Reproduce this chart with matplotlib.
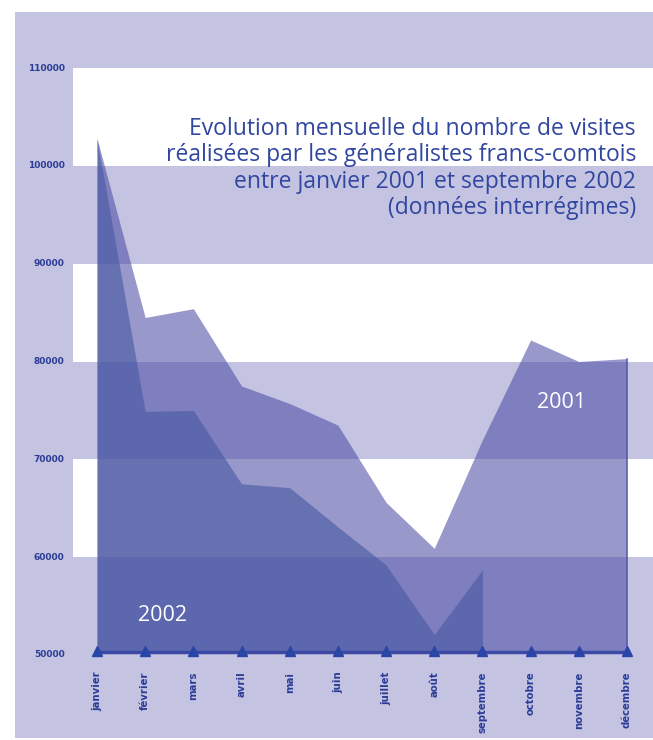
import matplotlib.pyplot as plt

months = ["janvier", "février", "mars", "avril", "mai", "juin", "juillet",
          "août", "septembre", "octobre", "novembre", "décembre"]
visits_2001 = [102800, 84500, 85400, 77500, 75700, 73500, 65600,
               60900, 72000, 82200, 80000, 80300]
visits_2002 = [102800, 74900, 75000, 67500, 67100, 63100, 59200,
               52100, 58700]
yticks = [50000, 60000, 70000, 80000, 90000, 100000, 110000]
title_lines = ["Evolution mensuelle du nombre de visites",
               "réalisées par les généralistes francs-comtois",
               "entre janvier 2001 et septembre 2002",
               "(données interrégimes)"]

lavender = "#c4c4e2"
dark = "#2c3c96"
title_col = "#3046a0"
c2001 = (80/255, 80/255, 168/255)
c2002 = (70/255, 88/255, 162/255)
base = 50300  # where the filled areas sit (a bit above the 50000 line in the original)

fig = plt.figure(figsize=(6.53, 7.40), dpi=100)
ax = fig.add_axes([15/653, 2/740, 638/653, 726/740])
ax.set_facecolor(lavender)
ax.set_xlim(-1.702, 11.54)
ax.set_ylim(41516, 115725)

# white bands
for lo in [60000, 80000, 100000]:
    ax.axhspan(lo, lo + 10000, xmin=0.0909, xmax=1, color="white", lw=0, zorder=0)

x01 = list(range(len(visits_2001)))
x02 = list(range(len(visits_2002)))
ax.fill_between(x01, base, visits_2001, color=c2001, alpha=0.59, lw=0, zorder=2)
ax.fill_between(x02, base, visits_2002, color=c2002, alpha=0.6, lw=0, zorder=3)
ax.plot([x01[-1], x01[-1]], [base, visits_2001[-1]], color=c2001, lw=1.2, alpha=0.8, zorder=3)

# baseline with triangles
ax.plot([0, 11], [base, base], color="#3c4aa6", lw=2.5, zorder=4)
ax.plot(x01, [base + 100] * 12, ls="none", marker="^", ms=7.5, color="#2a44a8", zorder=5)

# y tick labels
for v in yticks:
    ax.text(-0.67, v, str(v), ha="right", va="center", fontsize=6.5,
            fontweight="bold", color=dark, zorder=6)

# month labels
for i, m in enumerate(months):
    ax.text(i, 48300, m, rotation=90, ha="center", va="top", fontsize=7.3,
            fontweight="bold", color=dark, zorder=6)

# title
for k, line in enumerate(title_lines):
    ax.text(11.187, [103153, 100496, 97736, 95078][k], line, ha="right",
            va="baseline", fontsize=16.5, family="Open Sans", color=title_col, zorder=6)

ax.text(9.13, 75250, "2001", ha="left", va="baseline", fontsize=15.5,
        family="Open Sans", color="white", zorder=6)
ax.text(0.851, 53475, "2002", ha="left", va="baseline", fontsize=15.5,
        family="Open Sans", color="white", zorder=6)

for s in ax.spines.values():
    s.set_visible(False)
ax.set_xticks([])
ax.set_yticks([])

fig.savefig("out.png", dpi=100)
